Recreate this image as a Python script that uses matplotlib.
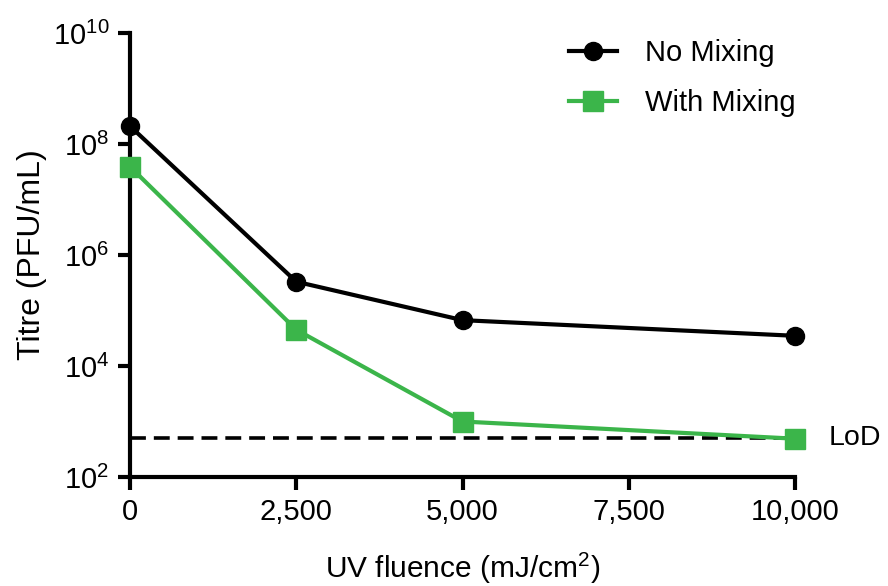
import math
import matplotlib
matplotlib.use('Agg')
import matplotlib.pyplot as plt
from matplotlib.ticker import FuncFormatter, FixedLocator, NullLocator

plt.rcParams['font.family'] = ['Liberation Sans', 'DejaVu Sans']
plt.rcParams['mathtext.fontset'] = 'custom'
plt.rcParams['mathtext.rm'] = 'Liberation Sans'
plt.rcParams['mathtext.it'] = 'Liberation Sans'
plt.rcParams['mathtext.default'] = 'regular'

fluence = [0, 2500, 5000, 10000]
no_mixing = [2.1e8, 3.3e5, 6.7e4, 3.5e4]
with_mixing = [3.9e7, 4.5e4, 1.0e3, 4.9e2]
lod = 500
GREEN = "#3bb54a"

fig = plt.figure(figsize=(8.88, 5.86), dpi=100)
ax = fig.add_axes([0.1464, 0.186, 0.7489, 0.7577])

ax.plot([0, 10000], [lod, lod], color='black', lw=2.6, dashes=(4.4, 2.2), zorder=2)
ax.plot(fluence, no_mixing, '-o', color='black', lw=3, ms=13, label='No Mixing',
        clip_on=False, zorder=4)
ax.plot(fluence, with_mixing, '-s', color=GREEN, lw=3, ms=14, label='With Mixing',
        clip_on=False, zorder=4)

ax.set_yscale('log')
ax.set_ylim(1e2, 1e10)
ax.set_xlim(0, 10000)
ax.yaxis.set_major_locator(FixedLocator([1e2, 1e4, 1e6, 1e8, 1e10]))
ax.yaxis.set_minor_locator(NullLocator())
ax.yaxis.set_major_formatter(FuncFormatter(lambda v, p: r'$10^{%d}$' % round(math.log10(v))))
ax.set_xticks([0, 2500, 5000, 7500, 10000])
ax.xaxis.set_major_formatter(FuncFormatter(lambda v, p: f"{v:,.0f}"))

ax.spines[['top', 'right']].set_visible(False)
for s in ['left', 'bottom']:
    ax.spines[s].set_linewidth(3)
ax.tick_params(width=3, length=9, labelsize=21, pad=6)

ax.set_xlabel("UV fluence (mJ/cm$^2$)", fontsize=21.5, labelpad=18)
ax.set_ylabel("Titre (PFU/mL)", fontsize=23, labelpad=4)
ax.text(10500, lod, "LoD", fontsize=20.5, va='center', ha='left')

ax.legend(loc='upper right', bbox_to_anchor=(1.04, 1.045), frameon=False, fontsize=21,
          labelspacing=0.75, handlelength=1.65, handletextpad=0.95)

fig.savefig("out.png", dpi=100)
